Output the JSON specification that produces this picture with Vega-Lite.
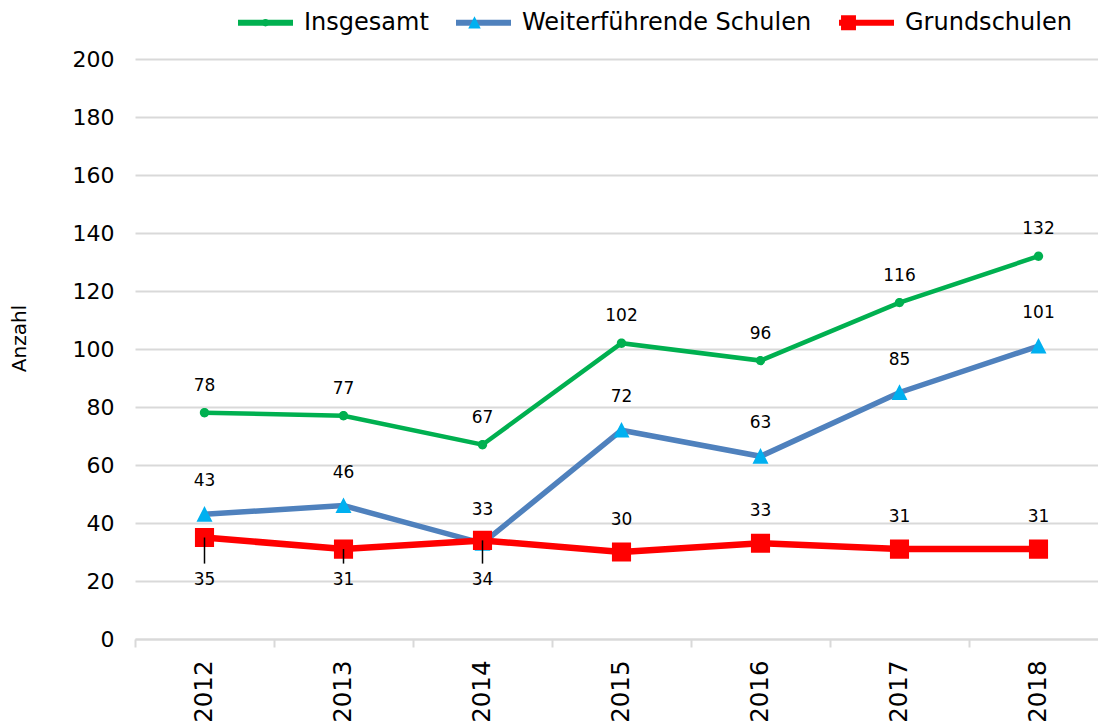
{
  "$schema": "https://vega.github.io/schema/vega-lite/v6.json",
  "width": 963,
  "height": 580,
  "autosize": {"type": "none"},
  "padding": {"left": 135, "top": 59, "right": 0, "bottom": 87},
  "background": "white",
  "config": {"view": {"stroke": null}, "font": "DejaVu Sans"},
  "data": {
    "values": [
      {"year": "2012", "series": "Weiterführende Schulen", "value": 43},
      {"year": "2013", "series": "Weiterführende Schulen", "value": 46},
      {"year": "2014", "series": "Weiterführende Schulen", "value": 33},
      {"year": "2015", "series": "Weiterführende Schulen", "value": 72},
      {"year": "2016", "series": "Weiterführende Schulen", "value": 63},
      {"year": "2017", "series": "Weiterführende Schulen", "value": 85},
      {"year": "2018", "series": "Weiterführende Schulen", "value": 101},
      {"year": "2012", "series": "Grundschulen", "value": 35},
      {"year": "2013", "series": "Grundschulen", "value": 31},
      {"year": "2014", "series": "Grundschulen", "value": 34},
      {"year": "2015", "series": "Grundschulen", "value": 30},
      {"year": "2016", "series": "Grundschulen", "value": 33},
      {"year": "2017", "series": "Grundschulen", "value": 31},
      {"year": "2018", "series": "Grundschulen", "value": 31},
      {"year": "2012", "series": "Insgesamt", "value": 78},
      {"year": "2013", "series": "Insgesamt", "value": 77},
      {"year": "2014", "series": "Insgesamt", "value": 67},
      {"year": "2015", "series": "Insgesamt", "value": 102},
      {"year": "2016", "series": "Insgesamt", "value": 96},
      {"year": "2017", "series": "Insgesamt", "value": 116},
      {"year": "2018", "series": "Insgesamt", "value": 132}
    ]
  },
  "encoding": {
    "x": {
      "field": "year",
      "type": "ordinal",
      "scale": {"type": "band", "range": [0, 973], "paddingInner": 0, "paddingOuter": 0},
      "axis": {
        "title": null,
        "labelAngle": -90,
        "labelAlign": "right",
        "labelBaseline": "middle",
        "labelFontSize": 24.5,
        "labelFont": "DejaVu Sans",
        "labelColor": "#000000",
        "labelPadding": 13,
        "tickBand": "extent",
        "tickSize": 8,
        "tickColor": "#d9d9d9",
        "tickWidth": 2,
        "domainColor": "#d9d9d9",
        "domainWidth": 2,
        "grid": false,
        "labelOverlap": false
      }
    },
    "y": {
      "field": "value",
      "type": "quantitative",
      "scale": {"domain": [0, 200], "nice": false},
      "axis": {
        "title": "Anzahl",
        "titleFont": "DejaVu Sans",
        "titleFontSize": 20,
        "titleFontWeight": "normal",
        "titleColor": "#000000",
        "titleAngle": -90,
        "titleAlign": "center",
        "titleBaseline": "middle",
        "titleX": -116,
        "titleY": 279,
        "values": [0, 20, 40, 60, 80, 100, 120, 140, 160, 180, 200],
        "labelFontSize": 22,
        "labelFont": "DejaVu Sans",
        "labelColor": "#000000",
        "labelPadding": 21,
        "ticks": false,
        "domain": false,
        "grid": true,
        "gridColor": "#d9d9d9",
        "gridWidth": 2
      }
    }
  },
  "resolve": {
    "scale": {"color": "independent", "shape": "independent"},
    "legend": {"color": "independent", "shape": "independent"}
  },
  "layer": [
    {
      "mark": {"type": "line"},
      "encoding": {
        "color": {
          "field": "series",
          "type": "nominal",
          "scale": {
            "domain": ["Insgesamt", "Weiterführende Schulen", "Grundschulen"],
            "range": ["#00B050", "#4F81BD", "#FF0000"]
          },
          "legend": {
            "orient": "none",
            "legendX": 100,
            "legendY": -67,
            "direction": "horizontal",
            "title": null,
            "symbolType": "stroke",
            "symbolSize": 3025,
            "symbolStrokeWidth": 6,
            "labelFont": "DejaVu Sans",
            "labelFontSize": 24,
            "labelColor": "#000000",
            "labelOffset": 8,
            "columnPadding": 15,
            "labelLimit": 400
          }
        },
        "strokeWidth": {
          "field": "series",
          "type": "nominal",
          "scale": {
            "domain": ["Insgesamt", "Weiterführende Schulen", "Grundschulen"],
            "range": [4.5, 6.5, 7]
          },
          "legend": null
        }
      }
    },
    {
      "mark": {"type": "point", "filled": true, "opacity": 1, "strokeWidth": 0, "size": 6084},
      "encoding": {
        "color": {
          "field": "series",
          "type": "nominal",
          "scale": {
            "domain": ["Insgesamt", "Weiterführende Schulen", "Grundschulen"],
            "range": ["#00B050", "#00B0F0", "#FF0000"]
          },
          "legend": {
            "orient": "none",
            "legendX": 100,
            "legendY": -67,
            "direction": "horizontal",
            "title": null,
            "symbolSize": 3721,
            "symbolStrokeWidth": 0,
            "symbolOpacity": 1,
            "labelFont": "DejaVu Sans",
            "labelFontSize": 24,
            "labelColor": "#000000",
            "labelOpacity": 0,
            "labelOffset": 8,
            "columnPadding": 15,
            "labelLimit": 400
          }
        },
        "shape": {
          "field": "series",
          "type": "nominal",
          "scale": {
            "domain": ["Insgesamt", "Weiterführende Schulen", "Grundschulen"],
            "range": [
              "M-1,0H1M-0.12,0A0.12,0.12,0,1,0,0.12,0A0.12,0.12,0,1,0,-0.12,0Z",
              "M-1,0H1M0,-0.21L0.205,0.19L-0.205,0.19Z",
              "M-1,0H1M-0.245,-0.245H0.245V0.245H-0.245Z"
            ]
          },
          "legend": {
            "orient": "none",
            "legendX": 100,
            "legendY": -67,
            "direction": "horizontal",
            "title": null,
            "symbolSize": 3721,
            "symbolStrokeWidth": 0,
            "symbolOpacity": 1,
            "labelFont": "DejaVu Sans",
            "labelFontSize": 24,
            "labelColor": "#000000",
            "labelOpacity": 0,
            "labelOffset": 8,
            "columnPadding": 15,
            "labelLimit": 400
          }
        }
      }
    },
    {
      "transform": [{"filter": "datum.series === 'Insgesamt'"}],
      "mark": {"type": "text", "fontSize": 17, "color": "#000000", "baseline": "middle", "align": "center", "dy": -27},
      "encoding": {"text": {"field": "value", "type": "quantitative"}}
    },
    {
      "transform": [{"filter": "datum.series !== 'Insgesamt' && datum.series !== 'Grundschulen'"}],
      "mark": {"type": "text", "fontSize": 17, "color": "#000000", "baseline": "middle", "align": "center", "dy": -33},
      "encoding": {"text": {"field": "value", "type": "quantitative"}}
    },
    {
      "transform": [{"filter": "datum.series === 'Grundschulen' && toNumber(datum.year) >= 2015"}],
      "mark": {"type": "text", "fontSize": 17, "color": "#000000", "baseline": "middle", "align": "center", "dy": -32},
      "encoding": {"text": {"field": "value", "type": "quantitative"}}
    },
    {
      "transform": [{"filter": "datum.series === 'Grundschulen' && toNumber(datum.year) <= 2014"}],
      "mark": {"type": "rule", "color": "#000000", "strokeWidth": 1.5},
      "encoding": {"y2": {"datum": 26}}
    },
    {
      "transform": [{"filter": "datum.series === 'Grundschulen' && toNumber(datum.year) <= 2014"}],
      "mark": {"type": "text", "fontSize": 17, "color": "#000000", "baseline": "middle", "align": "center"},
      "encoding": {
        "y": {"datum": 20.2, "type": "quantitative"},
        "text": {"field": "value", "type": "quantitative"}
      }
    }
  ]
}
